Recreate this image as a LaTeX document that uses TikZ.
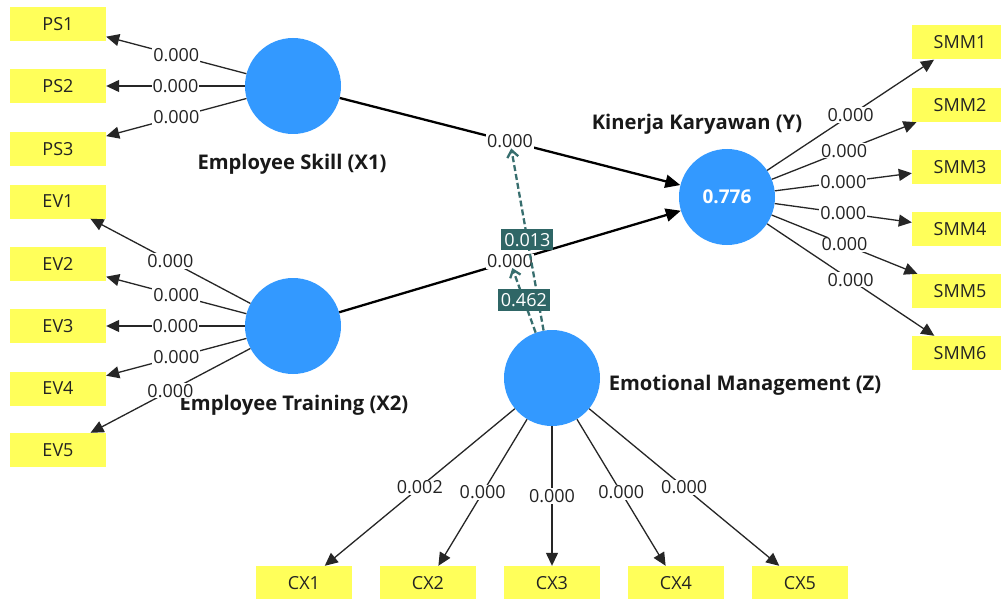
\documentclass[tikz,border=0pt]{standalone}
\usepackage{fontspec}
\setmainfont{Open Sans}
\usetikzlibrary{arrows.meta}
\definecolor{lvblue}{RGB}{51,153,255}
\definecolor{indyellow}{RGB}{255,255,90}
\definecolor{tealbox}{RGB}{47,102,102}
\definecolor{dashc}{RGB}{55,110,110}
\definecolor{txt}{RGB}{35,35,35}
\begin{document}
\begin{tikzpicture}[x=1pt,y=-1pt,
  lv/.style={circle,fill=lvblue,minimum size=96pt,inner sep=0pt},
  ind/.style={rectangle,fill=indyellow,minimum width=96pt,minimum height=34pt,inner sep=0pt,font=\fontsize{18}{21}\selectfont,text=txt},
  lvlabel/.style={font=\bfseries\fontsize{20.2}{24}\selectfont,text=black!90,inner sep=0pt},
  outer/.style={draw=black!85,line width=1.3pt,-{Triangle[length=13pt,width=12pt]}},
  inner/.style={draw=black,line width=2.3pt,-{Triangle[length=15pt,width=13pt]}},
  coef/.style={fill=white,inner sep=1pt,font=\fontsize{18}{21}\selectfont,text=txt},
  modl/.style={draw=dashc,line width=2.3pt,dash pattern=on 6pt off 3pt,shorten >=7pt,-{Straight Barb[length=7pt,width=11pt]}},
  modlab/.style={fill=tealbox,text=white,inner xsep=3pt,inner ysep=4pt,font=\fontsize{18}{21}\selectfont}]
\clip (0,0) rectangle (1001,599);
\fill[white] (0,0) rectangle (1001,599);
% indicators
\node[ind] (PS1) at (58,24) {PS1};
\node[ind] (PS2) at (58,86) {PS2};
\node[ind] (PS3) at (58,149) {PS3};
\node[ind] (EV1) at (58,201.5) {EV1};
\node[ind] (EV2) at (58,264) {EV2};
\node[ind] (EV3) at (58,326) {EV3};
\node[ind] (EV4) at (58,388.5) {EV4};
\node[ind] (EV5) at (58,450) {EV5};
\node[ind] (SMM1) at (960,42.5) {SMM1};
\node[ind] (SMM2) at (960,105) {SMM2};
\node[ind] (SMM3) at (960,167) {SMM3};
\node[ind] (SMM4) at (960,229) {SMM4};
\node[ind] (SMM5) at (960,291) {SMM5};
\node[ind] (SMM6) at (960,353) {SMM6};
\node[ind] (CX1) at (304,583) {CX1};
\node[ind] (CX2) at (428,583) {CX2};
\node[ind] (CX3) at (552,583) {CX3};
\node[ind] (CX4) at (676,583) {CX4};
\node[ind] (CX5) at (800,583) {CX5};
% latent variables
\node[lv] (X1) at (293,86) {};
\node[lv] (X2) at (293,326) {};
\node[lv] (Y) at (727,197) {\textcolor{white}{\bfseries\fontsize{19}{22}\selectfont 0.776}};
\node[lv] (Z) at (552,378) {};
\node[lvlabel] (lX1) at (292,164) {Employee Skill (X1)};
\node[lvlabel] (lX2) at (294,405) {Employee Training (X2)};
\node[lvlabel] (lY) at (697,124.5) {Kinerja Karyawan (Y)};
\node[lvlabel] (lZ) at (745,385) {Emotional Management (Z)};
% outer model
\foreach \i in {PS1,PS2,PS3}{\draw[outer] (X1) -- node[coef]{0.000} (\i);}
\foreach \i in {EV1,EV2,EV3,EV4,EV5}{\draw[outer] (X2) -- node[coef]{0.000} (\i);}
\foreach \i in {SMM1,SMM2,SMM3,SMM4,SMM5,SMM6}{\draw[outer] (Y) -- node[coef]{0.000} (\i);}
\draw[outer] (Z) -- node[coef]{0.002} (CX1);
\foreach \i in {CX2,CX3,CX4,CX5}{\draw[outer] (Z) -- node[coef]{0.000} (\i);}
% inner model
\draw[inner] (X1) -- node[coef]{0.000} coordinate[pos=0.5] (m1) (Y);
\draw[inner] (X2) -- node[coef]{0.000} coordinate[pos=0.5] (m2) (Y);
% moderating effects
\draw[modl] (Z) -- node[modlab,pos=0.48]{0.013} (m1);
\draw[modl] (Z) -- node[modlab,pos=0.46]{0.462} (m2);
\end{tikzpicture}
\end{document}
